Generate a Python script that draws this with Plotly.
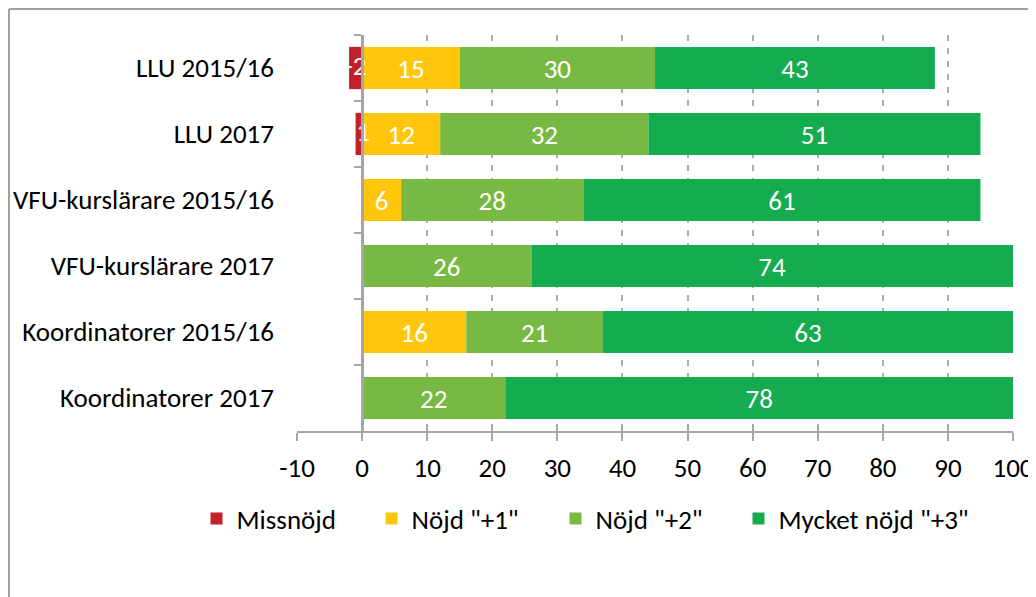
import plotly.graph_objects as go

categories = ["LLU 2015/16", "LLU 2017", "VFU-kurslärare 2015/16",
              "VFU-kurslärare 2017", "Koordinatorer 2015/16", "Koordinatorer 2017"]
missnojd = [-2, -1, None, None, None, None]
nojd1 = [15, 12, 6, None, 16, None]
nojd2 = [30, 32, 28, 26, 21, 22]
mycket = [43, 51, 61, 74, 63, 78]
x_ticks = list(range(-10, 101, 10))

series = [
    ("Missnöjd", missnojd, "#C0212B", 130),
    ('Nöjd "+1"', nojd1, "#FFC60B", 139),
    ('Nöjd "+2"', nojd2, "#78B943", 138),
    ('Mycket nöjd "+3"', mycket, "#15AC4F", 220),
]

FONT = "Carlito, Lato, sans-serif"
FS = 27
GRAY = "#A6A6A6"

fig = go.Figure()
for i, (name, vals, color, lw) in enumerate(series):
    inside = i > 0
    fig.add_trace(go.Bar(
        y=categories, x=vals, name=name, orientation="h",
        marker=dict(color=color, line=dict(width=0)),
        text=[("" if (v is None or not inside) else str(v)) for v in vals],
        textposition="inside", insidetextanchor="middle", textangle=0,
        constraintext="none",
        insidetextfont=dict(color="white", size=FS, family=FONT),
        legendwidth=lw,
        hoverinfo="skip",
    ))

# labels for the small negative segments (they overflow their bars)
neg_x = [v / 2 for v in missnojd if v is not None]
neg_y = [c for c, v in zip(categories, missnojd) if v is not None]
neg_t = [str(v) for v in missnojd if v is not None]
fig.add_trace(go.Scatter(x=neg_x, y=neg_y, text=neg_t, mode="text",
                         textfont=dict(color="white", size=FS, family=FONT),
                         showlegend=False, hoverinfo="skip", cliponaxis=False))

# invisible helper trace for the overlay axes (value axis at x=0, crossing ticks)
fig.add_trace(go.Scatter(x=[0] * len(categories), y=categories, xaxis="x2", yaxis="y2",
                         mode="markers", marker=dict(opacity=0), showlegend=False,
                         hoverinfo="skip"))

W, H = 1028, 589
L, R, T, B = 289, 23, 27, 166
pw, ph = W - L - R, H - T - B

fig.update_layout(
    width=W, height=H,
    barmode="relative", bargap=0.36,
    plot_bgcolor="white", paper_bgcolor="white",
    margin=dict(l=L, r=R, t=T, b=B, autoexpand=False),
    font=dict(family=FONT, size=FS, color="black"),
    xaxis=dict(range=[-10, 100], tickvals=x_ticks, ticktext=[str(v) for v in x_ticks],
               showgrid=True, gridcolor="#ADADAD", gridwidth=2, griddash="6px,7px",
               zeroline=False, showline=True, linecolor=GRAY, linewidth=2,
               ticks="outside", ticklen=8, tickcolor=GRAY, tickwidth=2,
               tickfont=dict(size=FS), ticklabelstandoff=4),
    xaxis2=dict(matches="x", overlaying="x", anchor="y", side="bottom",
                tickvals=x_ticks, ticks="inside", ticklen=7, tickcolor=GRAY, tickwidth=2,
                showticklabels=False, showgrid=False, zeroline=False, showline=False),
    yaxis=dict(categoryorder="array", categoryarray=categories, autorange="reversed",
               showgrid=False, zeroline=False, showline=False, ticks="",
               tickfont=dict(size=FS), ticklabelstandoff=22),
    yaxis2=dict(matches="y", overlaying="y", anchor="free", position=10 / 110, side="left",
                showticklabels=False, showgrid=False, zeroline=False,
                showline=True, linecolor=GRAY, linewidth=3,
                ticks="outside", ticklen=7, tickcolor=GRAY, tickwidth=2,
                tickson="boundaries"),
    legend=dict(orientation="h", x=(188.5 - L) / pw, xanchor="left", y=(423 - 511) / ph,
                yanchor="middle", font=dict(size=FS), traceorder="normal",
                bgcolor="rgba(0,0,0,0)"),
    showlegend=True,
)

# outer frame (left and top edges)
fx = (1 - L) / pw
fy = 1 + (T - 1) / ph
fig.add_shape(type="line", xref="paper", yref="paper", x0=fx, x1=fx, y0=fy, y1=-1,
              line=dict(color="#A0A0A0", width=2))
fig.add_shape(type="line", xref="paper", yref="paper", x0=fx, x1=1.2, y0=fy, y1=fy,
              line=dict(color="#A0A0A0", width=2))

fig.write_html("out.html")
